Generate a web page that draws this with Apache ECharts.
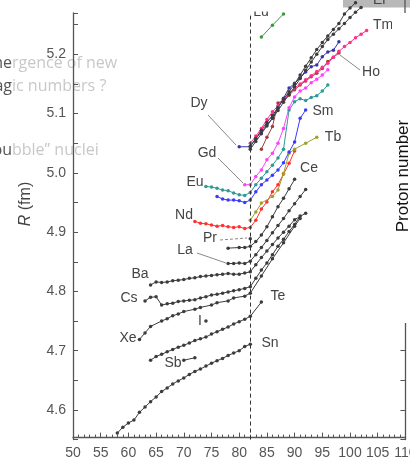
<!DOCTYPE html>
<html><head><meta charset="utf-8">
<script src="https://cdn.jsdelivr.net/npm/echarts@6/dist/echarts.min.js"></script>
<style>html,body{margin:0;padding:0;background:#fff}#c{width:410px;height:462px}</style>
</head><body><div id="c"></div>
<script>
// ---- data: [neutron number N, charge radius R (fm)] ----
const snData = [[58,4.561],[59,4.571],[60,4.578],[61,4.583],[62,4.596],[63,4.605],[64,4.614],[65,4.622],[66,4.631],[67,4.637],[68,4.644],[69,4.649],[70,4.654],[71,4.660],[72,4.665],[73,4.669],[74,4.674],[75,4.679],[76,4.683],[77,4.687],[78,4.692],[79,4.696],[80,4.700],[81,4.707],[82,4.711]];
const sbData = [[70,4.684],[72,4.688]];
const iData = [[74,4.750]];
const teData = [[64,4.684],[65,4.690],[66,4.694],[67,4.698],[68,4.702],[69,4.706],[70,4.709],[71,4.713],[72,4.717],[73,4.720],[74,4.723],[75,4.728],[76,4.732],[77,4.736],[78,4.740],[79,4.745],[80,4.749],[81,4.753],[82,4.758],[84,4.782]];
const xeData = [[62,4.719],[63,4.730],[64,4.741],[66,4.750],[67,4.754],[68,4.759],[69,4.762],[70,4.766],[72,4.770],[73,4.773],[75,4.777],[76,4.781],[78,4.784],[79,4.789],[81,4.792],[82,4.797],[84,4.826],[86,4.855],[88,4.882],[90,4.910],[91,4.923]];
const csData = [[63,4.784],[64,4.790],[65,4.791],[66,4.777],[67,4.779],[68,4.780],[69,4.783],[70,4.784],[71,4.785],[72,4.786],[73,4.789],[74,4.791],[75,4.794],[76,4.795],[77,4.797],[78,4.799],[79,4.801],[80,4.803],[81,4.805],[82,4.808],[83,4.822],[84,4.836],[85,4.848],[86,4.862],[87,4.876],[88,4.888],[89,4.901],[90,4.913],[91,4.927]];
const baData = [[64,4.811],[65,4.816],[66,4.815],[67,4.816],[68,4.818],[69,4.819],[70,4.820],[71,4.822],[72,4.823],[73,4.825],[74,4.826],[75,4.827],[76,4.828],[77,4.829],[78,4.830],[79,4.829],[80,4.829],[81,4.831],[82,4.833],[83,4.845],[84,4.857],[85,4.868],[86,4.879],[87,4.890],[88,4.900],[89,4.910],[90,4.921],[92,4.932]];
const laData = [[78,4.847],[79,4.847],[80,4.848],[81,4.847],[82,4.851],[83,4.862],[84,4.874],[85,4.886],[86,4.899],[87,4.911],[88,4.923],[89,4.936],[90,4.948],[91,4.960],[92,4.972]];
const ceData = [[78,4.873],[80,4.874],[81,4.874],[82,4.876],[83,4.884],[84,4.895],[85,4.909],[86,4.926],[87,4.943],[88,4.957],[89,4.973],[90,4.989]];
const prData = [[82,4.889]];
const ndData = [[72,4.918],[73,4.915],[74,4.914],[75,4.912],[76,4.910],[77,4.911],[78,4.909],[79,4.908],[80,4.909],[81,4.906],[82,4.908],[83,4.920],[84,4.939],[85,4.951],[86,4.968],[87,4.980],[88,4.998],[89,5.016],[90,5.037]];
const tbData = [[82,4.920],[83,4.934],[84,4.949],[86,4.960],[87,4.971],[88,4.999],[89,5.033],[90,5.040],[92,5.050],[94,5.060]];
const smData = [[76,4.960],[77,4.956],[78,4.954],[79,4.954],[80,4.953],[81,4.950],[82,4.954],[83,4.968],[84,4.980],[85,4.988],[86,4.996],[87,5.005],[88,5.017],[89,5.035],[90,5.052],[91,5.092],[92,5.106]];
const euData = [[74,4.977],[75,4.976],[76,4.974],[77,4.971],[78,4.970],[79,4.966],[80,4.963],[81,4.962],[82,4.967],[83,4.980],[84,4.991],[85,5.002],[86,5.013],[87,5.025],[88,5.040],[89,5.106],[90,5.120],[91,5.125],[92,5.122],[93,5.127],[94,5.130],[95,5.138],[96,5.148]];
const gdData = [[81,4.980],[82,4.980],[83,4.994],[84,5.005],[85,5.022],[86,5.033],[87,5.050],[88,5.075],[89,5.110],[90,5.128],[91,5.138],[92,5.143],[93,5.152],[94,5.158],[95,5.165],[96,5.174]];
const dyData = [[80,5.044],[82,5.044],[83,5.058],[84,5.069],[85,5.081],[86,5.092],[87,5.110],[88,5.126],[89,5.143],[90,5.151],[91,5.160],[92,5.170],[93,5.179],[94,5.182],[95,5.196],[96,5.204],[97,5.207],[98,5.221]];
const hoData = [[84,5.040],[85,5.060],[86,5.078],[87,5.118],[88,5.122],[89,5.131],[90,5.140],[91,5.148],[92,5.155],[93,5.162],[94,5.168],[95,5.176],[96,5.188],[97,5.195],[98,5.202]];
const tmData = [[82,5.050],[83,5.062],[84,5.075],[85,5.090],[86,5.103],[87,5.113],[88,5.123],[89,5.133],[90,5.143],[91,5.150],[92,5.157],[93,5.164],[94,5.171],[95,5.178],[96,5.185],[97,5.195],[98,5.205],[99,5.213],[100,5.220],[101,5.228],[102,5.234],[103,5.240]];
const erData = [[82,5.045],[83,5.058],[84,5.072],[85,5.085],[86,5.097],[87,5.110],[88,5.124],[89,5.137],[90,5.150],[91,5.165],[92,5.180],[93,5.194],[94,5.208],[95,5.220],[96,5.231],[97,5.242],[98,5.252],[99,5.268],[100,5.278],[101,5.287]];
const ybData = [[82,5.040],[83,5.053],[84,5.066],[85,5.079],[86,5.092],[87,5.105],[88,5.119],[89,5.132],[90,5.145],[91,5.159],[92,5.173],[93,5.187],[94,5.200],[95,5.213],[96,5.225],[97,5.234],[98,5.243],[99,5.252],[100,5.262],[101,5.271],[102,5.279]];
const luData = [[84,5.229],[86,5.249],[88,5.268]];
const shellN = 82;
const xTickLabels = [50,55,60,65,70,75,80,85,90,95,100,105,110];
const yTickLabels = [4.6,4.7,4.8,4.9,5.0,5.1,5.2];

const GRAY = '#3c3c3c';
const seriesDefs = [
  ['Sn', snData, GRAY], ['Sb', sbData, GRAY], ['I', iData, GRAY], ['Te', teData, GRAY],
  ['Xe', xeData, GRAY], ['Cs', csData, GRAY], ['Ba', baData, GRAY], ['La', laData, GRAY],
  ['Ce', ceData, GRAY], ['Pr', prData, GRAY], ['Nd', ndData, '#ff3030'], ['Tb', tbData, '#a0a030'],
  ['Sm', smData, '#3a3aff'], ['Eu', euData, '#2f9a94'], ['Gd', gdData, '#ff40ff'],
  ['Ho', hoData, '#a33c3c'], ['Tm', tmData, '#ff2f8c'], ['Dy', dyData, '#3636a8'],
  ['Er', erData, GRAY], ['Yb', ybData, GRAY], ['Lu', luData, '#3a9a3a']
];

const chart = echarts.init(document.getElementById('c'), null, {renderer: 'canvas'});
const series = seriesDefs.map(([name, data, color]) => ({
  name, type: 'line', data, clip: false, symbol: 'circle', symbolSize: 3.5,
  lineStyle: {color, width: 1}, itemStyle: {color}, emphasis: {disabled: true},
  animation: false, z: 2
}));
series[0].markLine = {
  silent: true, symbol: 'none', animation: false,
  label: {show: false},
  lineStyle: {type: [4, 3], color: '#333', width: 1},
  data: [{xAxis: shellN}]
};

const FONT = 'Liberation Sans';
const axisCommon = {
  type: 'value', min: 4.55, max: 5.27, interval: 0.05,
  splitLine: {show: false},
  axisLine: {show: true, lineStyle: {color: '#555', width: 1.3}},
  axisTick: {show: true, inside: true, length: 5, lineStyle: {color: '#555'}}
};
chart.setOption({
  animation: false,
  grid: {left: 73, right: 4.6, top: 12.8, bottom: 22.4, containLabel: false, outerBoundsMode: 'none'},
  xAxis: {
    type: 'value', min: 50, max: 110, interval: 5, offset: -2,
    splitLine: {show: false},
    axisLine: {show: true, lineStyle: {color: '#555', width: 1.3}},
    axisTick: {show: true, inside: true, length: 5, lineStyle: {color: '#555'}},
    minorTick: {show: true, splitNumber: 5, length: 3, lineStyle: {color: '#555'}},
    axisLabel: {color: '#555', fontSize: 14, fontFamily: FONT, margin: 9,
      formatter: v => xTickLabels.includes(Math.round(v)) ? String(Math.round(v)) : ''}
  },
  yAxis: [
    Object.assign({}, axisCommon, {position: 'left',
      axisLabel: {color: '#555', fontSize: 14, fontFamily: FONT, margin: 7,
        formatter: v => { const m = yTickLabels.find(t => Math.abs(t - v) < 1e-6); return m !== undefined ? m.toFixed(1) : ''; }}}),
    Object.assign({}, axisCommon, {position: 'right', axisLabel: {show: false}})
  ],
  series
});

// ---- annotations ----
const lab = (text, x, y, extra) => ({type: 'text', z: 10, style: Object.assign({text, x, y, font: '14px ' + FONT, fill: '#444', align: 'center', verticalAlign: 'middle'}, extra || {})});
const lead = (x1, y1, x2, y2, dash) => ({type: 'line', z: 10, shape: {x1, y1, x2, y2}, style: {stroke: '#888', lineWidth: 1, lineDash: dash || null}});
const ghost = (dark, light, y) => [
  {type: 'text', z: -1, style: {text: dark, x: 12, y, font: '16px "Open Sans"', fill: '#555', align: 'right', verticalAlign: 'middle'}},
  {type: 'text', z: -1, style: {text: light, x: 12, y, font: '16px "Open Sans"', fill: '#c8c8c8', align: 'left', verticalAlign: 'middle'}}
];
chart.setOption({graphic: [
  ...ghost('me', 'rgence of new', 63),
  ...ghost('ag', 'ic numbers ?', 86),
  ...ghost('bu', 'bble\u201d nuclei', 150),
  lab('Lu', 261, 12),
  {type: 'rect', z: 11, shape: {x: 240, y: 0, width: 60, height: 11.5}, style: {fill: '#fff'}},
  {type: 'rect', z: -1, shape: {x: 343, y: 0, width: 67, height: 7.5}, style: {fill: '#b8b8b8'}},
  {type: 'rect', z: 50, shape: {x: 392, y: 9, width: 18, height: 314}, style: {fill: '#fff'}},
  {type: 'line', z: 50, shape: {x1: 405, y1: 0, x2: 405, y2: 13}, style: {stroke: '#555', lineWidth: 1.3}},
  {type: 'text', z: 51, x: 403, y: 176, rotation: Math.PI / 2,
    style: {text: 'Proton number', x: 0, y: 0, font: '17px ' + FONT, fill: '#111', align: 'center', verticalAlign: 'middle'}},
  {type: 'text', z: 10, x: 26, y: 204, rotation: Math.PI / 2,
    style: {text: '{i|R} (fm)', x: 0, y: 0, font: '16px ' + FONT, fill: '#444', align: 'center', verticalAlign: 'middle',
      rich: {i: {fontStyle: 'italic', fontSize: 16, fontFamily: FONT, fill: '#444'}}}},
  lab('Dy', 199, 103), lead(208, 115, 236, 145),
  lab('Gd', 207, 153), lead(218, 158, 243, 183),
  lab('Eu', 195, 182),
  lab('Nd', 184, 215),
  lab('Pr', 210, 238), lead(220, 240, 247, 238, [3, 2]),
  lab('La', 185, 250), lead(197, 253, 226, 263),
  lab('Ba', 140, 274),
  lab('Cs', 129, 298),
  lab('Xe', 128, 338),
  lab('I', 200, 321),
  lab('Sb', 173, 363),
  lab('Te', 278, 296),
  lab('Sn', 270, 343),
  lab('Ce', 309, 168),
  lab('Tb', 333, 137),
  lab('Sm', 323, 111),
  lab('Ho', 371, 72), lead(340, 55, 360, 70),
  lab('Tm', 383, 25),
  lab('Er', 380, 0)
]});
</script></body></html>
